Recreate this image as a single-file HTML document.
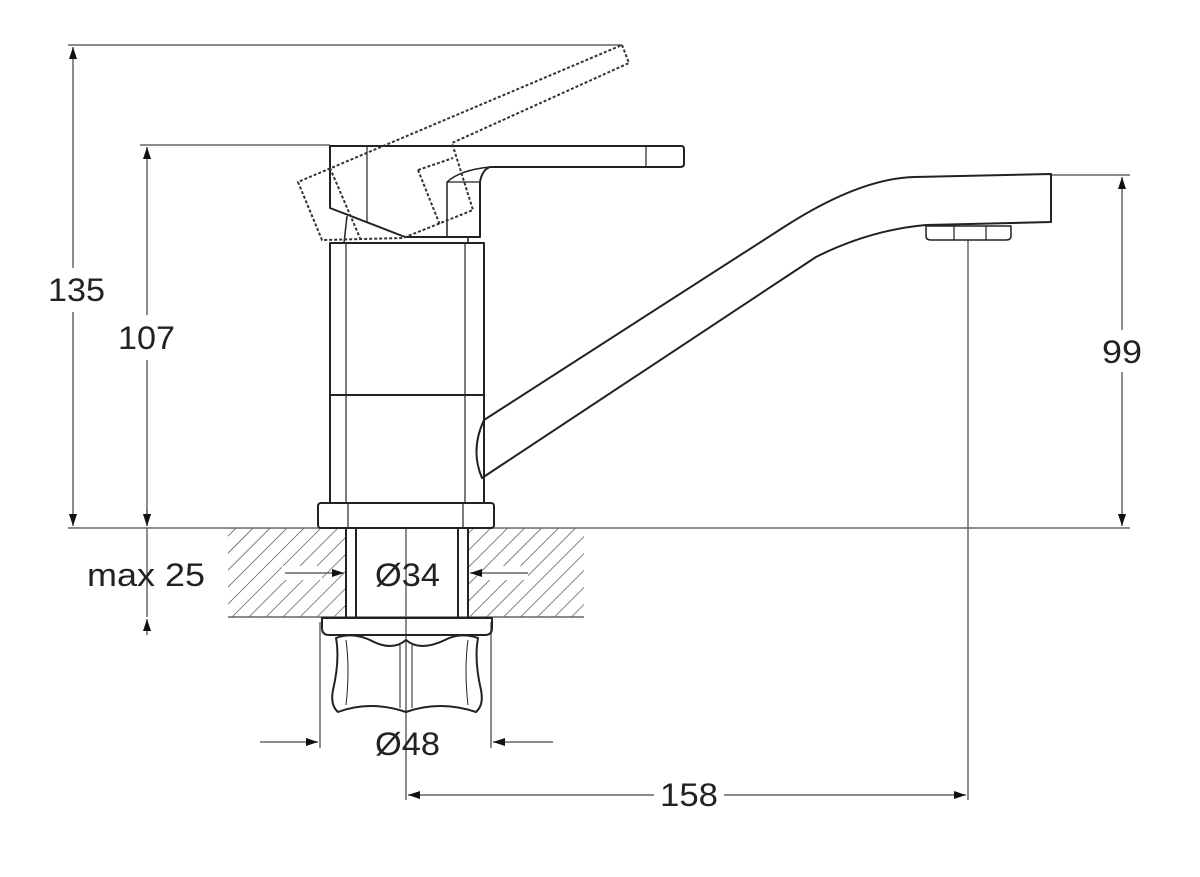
<!DOCTYPE html>
<html><head><meta charset="utf-8"><style>
html,body{margin:0;padding:0;background:#fff;}
svg{display:block;}
text{font-family:"Liberation Sans",sans-serif;font-size:32px;fill:#222;}
</style></head><body>
<svg width="1200" height="877" viewBox="0 0 1200 877" xmlns="http://www.w3.org/2000/svg">
<defs>
<pattern id="h" patternUnits="userSpaceOnUse" width="12" height="12" patternTransform="rotate(45)">
<line x1="0" y1="0" x2="0" y2="12" stroke="#444" stroke-width="1.3"/>
</pattern>
<marker id="a" viewBox="0 0 12 8" refX="12" refY="4" markerWidth="12" markerHeight="8" markerUnits="userSpaceOnUse" orient="auto">
<path d="M0,0 L12,4 L0,8 z" fill="#111"/>
</marker>
</defs>

<rect x="228" y="528" width="118" height="89" fill="url(#h)"/>
<rect x="468" y="528" width="116" height="89" fill="url(#h)"/>
<rect x="282" y="566" width="40" height="14" fill="#fff"/>
<rect x="488" y="566" width="40" height="14" fill="#fff"/>

<g stroke="#666" stroke-width="1.5" fill="none">
<line x1="68" y1="45" x2="622" y2="45"/>
<line x1="140" y1="145" x2="330" y2="145"/>
<line x1="68" y1="528" x2="1130" y2="528"/>
<line x1="1050" y1="175" x2="1130" y2="175"/>
<line x1="228" y1="617" x2="584" y2="617"/>
<line x1="73" y1="268" x2="73" y2="47" marker-end="url(#a)"/>
<line x1="73" y1="312" x2="73" y2="526" marker-end="url(#a)"/>
<line x1="147" y1="315" x2="147" y2="147" marker-end="url(#a)"/>
<line x1="147" y1="360" x2="147" y2="526" marker-end="url(#a)"/>
<line x1="1122" y1="330" x2="1122" y2="177" marker-end="url(#a)"/>
<line x1="1122" y1="372" x2="1122" y2="526" marker-end="url(#a)"/>
<line x1="147" y1="510" x2="147" y2="526" marker-end="url(#a)"/>
<line x1="147" y1="635" x2="147" y2="619" marker-end="url(#a)"/>
<line x1="147" y1="528" x2="147" y2="617"/>
<line x1="285" y1="573" x2="344" y2="573" marker-end="url(#a)"/>
<line x1="528" y1="573" x2="470" y2="573" marker-end="url(#a)"/>
<line x1="260" y1="742" x2="318" y2="742" marker-end="url(#a)"/>
<line x1="553" y1="742" x2="493" y2="742" marker-end="url(#a)"/>
<line x1="320" y1="622" x2="320" y2="748"/>
<line x1="491" y1="622" x2="491" y2="748"/>
<line x1="654" y1="795" x2="408" y2="795" marker-end="url(#a)"/>
<line x1="724" y1="795" x2="966" y2="795" marker-end="url(#a)"/>
<line x1="406" y1="528" x2="406" y2="800"/>
<line x1="968" y1="240" x2="968" y2="800"/>
</g>

<g stroke="#222" stroke-width="2" fill="none" stroke-linejoin="round">
<rect x="330" y="243" width="154" height="260"/>
<line x1="330" y1="395" x2="484" y2="395"/>
<line x1="346" y1="243" x2="346" y2="503" stroke-width="1.2"/>
<line x1="465" y1="243" x2="465" y2="503" stroke-width="1.2"/>
<rect x="318" y="503" width="176" height="25" rx="3"/>
<line x1="348" y1="503" x2="348" y2="528" stroke-width="1.2"/>
<line x1="463" y1="503" x2="463" y2="528" stroke-width="1.2"/>
<line x1="346" y1="528" x2="346" y2="617"/>
<line x1="356" y1="528" x2="356" y2="617"/>
<line x1="458" y1="528" x2="458" y2="617"/>
<line x1="468" y1="528" x2="468" y2="617"/>
<path d="M322,618 L492,618 L492,628 Q492,635 485,635 L329,635 Q322,635 322,628 Z"/>
<path d="M336,638 Q340,660 333,690 Q330,705 338,712 Q370,700 406,712 Q440,700 476,712 Q484,705 481,690 Q474,660 478,638 Q460,632 445,640 Q420,652 406,640 Q392,652 370,640 Q352,632 336,638 Z"/>
<path d="M346,640 Q350,670 346,705" stroke-width="1"/>
<path d="M468,640 Q464,670 468,705" stroke-width="1"/>
<line x1="400" y1="645" x2="400" y2="708" stroke-width="1"/>
<line x1="412" y1="645" x2="412" y2="708" stroke-width="1"/>
<path d="M330,146 L682,146 Q684,146 684,150 L684,164 Q684,167 680,167 L490,167 Q482,170 480,182 L480,237 L405,237 L330,208 Z"/>
<line x1="646" y1="146" x2="646" y2="167" stroke-width="1.2"/>
<line x1="367" y1="146" x2="367" y2="222" stroke-width="1.2"/>
<path d="M447,237 L447,182 Q460,170 490,167" stroke-width="1.5"/>
<line x1="447" y1="182" x2="480" y2="182" stroke-width="1.2"/>
<line x1="347" y1="216" x2="344" y2="243" stroke-width="1.5"/>
<line x1="468" y1="237" x2="468" y2="243" stroke-width="1.5"/>
<path d="M484,420 L784,227 Q860,178 915,177 L1051,174 L1051,222 L926,225 Q870,230 816,257 L482,478 Q470,450 484,420"/>
<path d="M926,226 L1011,226 L1011,236 Q1011,240 1006,240 L931,240 Q926,240 926,236 Z" stroke-width="1.5"/>
<line x1="954" y1="226" x2="954" y2="240" stroke-width="1.2"/>
<line x1="986" y1="226" x2="986" y2="240" stroke-width="1.2"/>
</g>

<g stroke="#333" stroke-width="2" fill="none" stroke-dasharray="3,2">
<path d="M622,45 L629,63 L452,143 L473,210 L403,238 L322,240 L298,182 Z"/>
<path d="M418,170 L453,158"/>
<path d="M418,170 L440,225"/>
<path d="M330,168 L360,238"/>
</g>

<text x="48" y="301" textLength="57" lengthAdjust="spacingAndGlyphs">135</text>
<text x="118" y="349" textLength="57" lengthAdjust="spacingAndGlyphs">107</text>
<text x="1102" y="363" textLength="40" lengthAdjust="spacingAndGlyphs">99</text>
<text x="87" y="586" textLength="118" lengthAdjust="spacingAndGlyphs">max 25</text>
<text x="375" y="586" textLength="65" lengthAdjust="spacingAndGlyphs">Ø34</text>
<text x="375" y="755" textLength="65" lengthAdjust="spacingAndGlyphs">Ø48</text>
<text x="660" y="806" textLength="58" lengthAdjust="spacingAndGlyphs">158</text>
</svg>
</body></html>
